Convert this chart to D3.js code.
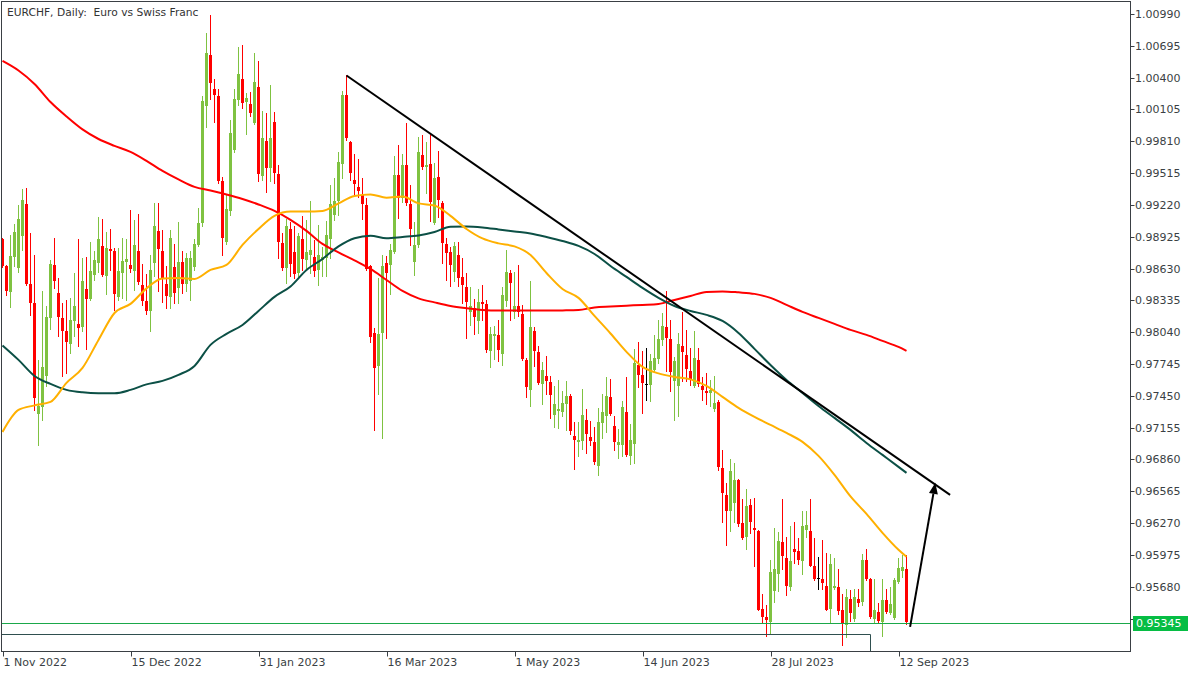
<!DOCTYPE html>
<html><head><meta charset="utf-8">
<script src="https://cdn.jsdelivr.net/npm/d3@7"></script>
<style>body{margin:0;background:#fff;} svg{display:block;} text{font-family:"DejaVu Sans",sans-serif;}</style>
</head><body><svg id="c" width="1200" height="675"></svg>
<script>
const titleText = "EURCHF, Daily:  Euro vs Swiss Franc";
const dateTickIndex = [0, 32, 64, 96, 128, 160, 192, 224];
const dateTickLabels = ["1 Nov 2022", "15 Dec 2022", "31 Jan 2023", "16 Mar 2023", "1 May 2023", "14 Jun 2023", "28 Jul 2023", "12 Sep 2023"];
const priceTicks = [1.00990, 1.00695, 1.00400, 1.00105, 0.99810, 0.99515, 0.99220, 0.98925, 0.98630, 0.98335, 0.98040, 0.97745, 0.97450, 0.97155, 0.96860, 0.96565, 0.96270, 0.95975, 0.95680, 0.95385];

const open = [.9890,.9865,.9842,.9874,.9864,.9894,.9923,.9849,.9831,.9729,.9735,.9763,.9817,.9866,.9840,.9817,.9805,.9793,.9814,.9812,
.9808,.9844,.9835,.9857,.9868,.9884,.9856,.9881,.9879,.9837,.9859,.9869,.9866,.9861,.9879,.9848,.9833,.9824,.9868,.9898,
.9879,.9849,.9836,.9864,.9845,.9869,.9849,.9852,.9865,.9885,.9905,1.0014,1.0061,1.0029,1.0023,.9944,.9887,.9917,.9973,1.0019,
1.0039,1.0017,1.0016,.9998,1.0031,.9949,.9981,.9956,.9999,.9951,.9887,.9863,.9900,.9878,.9859,.9890,.9871,.9875,.9874,.9862,
.9871,.9873,.9891,.9913,.9926,.9960,1.0024,.9980,.9945,.9939,.9931,.9922,.9865,.9803,.9772,.9803,.9868,.9866,.9879,.9950,
.9928,.9959,.9923,.9869,.9885,.9968,.9957,.9960,.9905,.9948,.9924,.9886,.9878,.9860,.9876,.9855,.9846,.9822,.9826,.9814,
.9832,.9830,.9786,.9800,.9801,.9783,.9833,.9859,.9822,.9828,.9821,.9778,.9751,.9805,.9786,.9756,.9763,.9758,.9727,.9731,
.9730,.9738,.9745,.9708,.9702,.9703,.9723,.9707,.9702,.9680,.9720,.9726,.9744,.9717,.9699,.9700,.9730,.9689,.9700,.9774,
.9764,.9756,.9755,.9769,.9779,.9797,.9809,.9798,.9758,.9754,.9791,.9783,.9768,.9754,.9778,.9754,.9749,.9747,.9732,.9739,
.9678,.9653,.9638,.9646,.9667,.9627,.9614,.9644,.9622,.9620,.9547,.9540,.9536,.9564,.9579,.9609,.9595,.9568,.9603,.9601,
.9592,.9620,.9620,.9587,.9576,.9575,.9569,.9547,.9567,.9568,.9546,.9532,.9557,.9538,.9557,.9554,.9593,.9575,.9538,.9545,
.9536,.9556,.9544,.9539,.9572,.9582,.9584];
const high = [.9891,.9866,.9894,.9904,.9922,.9937,.9938,.9896,.9876,.9778,.9842,.9828,.9871,.9891,.9854,.9831,.9834,.9836,.9859,.9890,
.9873,.9874,.9888,.9879,.9911,.9909,.9897,.9900,.9882,.9882,.9891,.9890,.9917,.9908,.9914,.9867,.9858,.9876,.9924,.9924,
.9899,.9865,.9899,.9886,.9906,.9879,.9877,.9879,.9890,.9919,1.0023,1.0081,1.0098,1.0039,1.0029,.9948,.9931,1.0001,1.0029,1.0068,
1.0070,1.0026,1.0027,1.0063,1.0055,1.0009,1.0007,1.0033,1.0008,.9959,.9896,.9909,.9906,.9902,.9896,.9912,.9908,.9926,.9889,.9903,
.9883,.9907,.9940,.9947,.9971,1.0028,1.0042,.9981,.9969,.9965,.9947,.9928,.9866,.9808,.9854,.9876,.9875,.9886,.9967,.9978,
.9969,.9998,.9940,.9906,.9985,.9987,.9980,.9987,.9961,.9972,.9926,.9891,.9883,.9888,.9888,.9873,.9859,.9846,.9835,.9844,
.9848,.9834,.9809,.9810,.9815,.9846,.9880,.9862,.9860,.9866,.9829,.9780,.9851,.9809,.9791,.9776,.9782,.9763,.9754,.9760,
.9749,.9759,.9747,.9721,.9721,.9751,.9733,.9722,.9716,.9734,.9747,.9762,.9761,.9726,.9714,.9740,.9762,.9719,.9788,.9795,
.9787,.9789,.9784,.9801,.9815,.9822,.9842,.9815,.9781,.9803,.9823,.9806,.9789,.9805,.9789,.9762,.9766,.9760,.9763,.9741,
.9695,.9664,.9686,.9683,.9668,.9649,.9659,.9649,.9650,.9621,.9561,.9551,.9593,.9622,.9619,.9649,.9614,.9624,.9628,.9613,
.9638,.9638,.9649,.9613,.9596,.9611,.9599,.9598,.9595,.9584,.9561,.9566,.9565,.9566,.9566,.9598,.9603,.9576,.9575,.9553,
.9575,.9566,.9568,.9576,.9595,.9597,.9597];
const low = [.9864,.9838,.9827,.9865,.9860,.9880,.9848,.9820,.9732,.9699,.9723,.9754,.9807,.9845,.9800,.9763,.9766,.9785,.9800,.9791,
.9805,.9788,.9834,.9852,.9860,.9856,.9839,.9862,.9825,.9834,.9836,.9834,.9860,.9843,.9849,.9829,.9821,.9805,.9856,.9842,
.9832,.9826,.9826,.9831,.9831,.9840,.9842,.9834,.9862,.9884,.9902,.9994,1.0020,.9999,.9942,.9876,.9886,.9913,.9971,1.0015,
1.0012,.9988,1.0004,.9997,.9944,.9945,.9934,.9944,.9942,.9873,.9862,.9850,.9856,.9854,.9856,.9862,.9863,.9859,.9856,.9848,
.9856,.9856,.9873,.9908,.9913,.9947,.9982,.9945,.9930,.9929,.9909,.9862,.9795,.9713,.9747,.9706,.9799,.9839,.9877,.9910,
.9925,.9922,.9885,.9857,.9883,.9955,.9933,.9907,.9904,.9911,.9868,.9852,.9847,.9851,.9847,.9831,.9799,.9811,.9802,.9803,
.9815,.9786,.9772,.9779,.9777,.9774,.9828,.9815,.9817,.9819,.9778,.9744,.9736,.9773,.9756,.9737,.9747,.9724,.9716,.9715,
.9726,.9713,.9710,.9677,.9689,.9696,.9692,.9699,.9682,.9672,.9706,.9711,.9727,.9695,.9687,.9689,.9689,.9682,.9683,.9753,
.9729,.9741,.9740,.9768,.9775,.9792,.9768,.9749,.9723,.9726,.9759,.9759,.9755,.9753,.9754,.9741,.9737,.9736,.9731,.9676,
.9628,.9607,.9620,.9628,.9624,.9612,.9603,.9618,.9587,.9546,.9535,.9522,.9524,.9554,.9564,.9584,.9560,.9565,.9590,.9589,
.9580,.9614,.9587,.9574,.9566,.9566,.9546,.9534,.9566,.9543,.9514,.9521,.9536,.9536,.9550,.9551,.9574,.9539,.9534,.9534,
.9522,.9544,.9543,.9538,.9571,.9577,.9533];
const close = [.9865,.9842,.9875,.9897,.9909,.9927,.9849,.9831,.9743,.9736,.9772,.9818,.9867,.9851,.9818,.9805,.9795,.9815,.9828,.9808,
.9851,.9835,.9861,.9871,.9890,.9857,.9882,.9879,.9839,.9861,.9870,.9872,.9862,.9885,.9850,.9833,.9824,.9862,.9902,.9881,
.9854,.9838,.9891,.9840,.9869,.9849,.9873,.9873,.9886,.9905,1.0018,1.0063,1.0035,1.0023,.9944,.9891,.9918,.9989,1.0020,1.0043,
1.0017,1.0021,1.0008,1.0036,.9950,.9984,.9956,.9984,.9952,.9888,.9864,.9902,.9868,.9858,.9893,.9871,.9878,.9880,.9861,.9876,
.9874,.9894,.9923,.9926,.9962,1.0024,.9984,.9951,.9941,.9935,.9923,.9863,.9799,.9771,.9802,.9865,.9859,.9880,.9950,.9929,
.9959,.9924,.9900,.9885,.9971,.9957,.9959,.9925,.9947,.9927,.9887,.9878,.9866,.9884,.9855,.9848,.9832,.9828,.9818,.9832,
.9830,.9787,.9802,.9802,.9787,.9838,.9860,.9850,.9828,.9822,.9779,.9753,.9809,.9786,.9757,.9769,.9758,.9746,.9737,.9733,
.9738,.9745,.9713,.9704,.9704,.9727,.9710,.9703,.9683,.9721,.9730,.9745,.9728,.9702,.9702,.9735,.9690,.9704,.9775,.9765,
.9757,.9756,.9777,.9780,.9798,.9810,.9799,.9767,.9777,.9793,.9785,.9770,.9761,.9780,.9756,.9750,.9747,.9750,.9738,.9679,
.9655,.9638,.9675,.9667,.9626,.9613,.9643,.9628,.9620,.9547,.9540,.9537,.9582,.9584,.9610,.9596,.9569,.9592,.9600,.9593,
.9624,.9625,.9588,.9575,.9576,.9571,.9547,.9589,.9569,.9546,.9533,.9558,.9544,.9558,.9553,.9593,.9575,.9540,.9546,.9537,
.9556,.9545,.9552,.9574,.9585,.9586,.95345];

const maIndex = d3.range(0, 225, 4).concat([226]);
const maOrange = [0.97115,0.97319,0.97361,0.97393,0.97570,0.97709,0.97968,0.98218,0.98302,0.98446,
0.98538,0.98543,0.98534,0.98617,0.98663,0.98849,0.98997,0.99118,0.99158,0.99158,
0.99164,0.99234,0.99303,0.99317,0.99287,0.99298,0.99234,0.99215,0.99118,0.98997,
0.98909,0.98863,0.98835,0.98756,0.98589,0.98441,0.98358,0.98191,0.98028,0.97857,
0.97718,0.97658,0.97625,0.97602,0.97542,0.97440,0.97338,0.97254,0.97180,0.97106,
0.97023,0.96893,0.96717,0.96517,0.96355,0.96179,0.96022,0.95957];
const maTeal = [0.97917,0.97783,0.97634,0.97560,0.97505,0.97482,0.97474,0.97474,0.97505,0.97556,
0.97588,0.97644,0.97727,0.97922,0.98024,0.98107,0.98237,0.98367,0.98464,0.98617,
0.98719,0.98835,0.98911,0.98935,0.98911,0.98923,0.98937,0.98969,0.99018,0.99020,
0.99011,0.98993,0.98974,0.98955,0.98923,0.98886,0.98840,0.98765,0.98654,0.98552,
0.98450,0.98358,0.98283,0.98237,0.98200,0.98144,0.98033,0.97885,0.97736,0.97597,
0.97477,0.97356,0.97245,0.97134,0.97013,0.96902,0.96791,0.96735];
const maRed = [1.00555,1.00466,1.00341,1.00174,1.00040,0.99920,0.99831,0.99767,0.99711,0.99628,
0.99535,0.99456,0.99387,0.99354,0.99317,0.99275,0.99224,0.99164,0.99081,0.98979,
0.98858,0.98779,0.98705,0.98626,0.98524,0.98422,0.98353,0.98316,0.98283,0.98262,
0.98246,0.98240,0.98240,0.98240,0.98240,0.98242,0.98246,0.98269,0.98278,0.98286,
0.98293,0.98302,0.98339,0.98376,0.98413,0.98418,0.98409,0.98395,0.98358,0.98293,
0.98228,0.98172,0.98117,0.98061,0.98015,0.97959,0.97903,0.97866];

const lastPrice = 0.95345;
const trendIdx = [86, 236.9];
const trendPrice = [1.0042, 0.96531];
const arrowIdx = [226.9, 233.2];
const arrowPrice = [0.95308, 0.96643];
const boxRightIdx = 217;
const boxTopPrice = 0.95243;

const plotL = 1.5, plotR = 1130.5, plotT = 1.5, plotB = 651.5;
const svg = d3.select("#c");
const x = d3.scaleLinear().domain([0, 1]).range([2.5, 6.5]);
const y = d3.scaleLinear().domain([0.95680, 1.00990]).range([586.7, 14]);

svg.append("defs").append("clipPath").attr("id", "clip")
  .append("rect").attr("x", plotL).attr("y", plotT).attr("width", plotR - plotL).attr("height", plotB - plotT);

const plot = svg.append("g").attr("clip-path", "url(#clip)");

// candles
const GREEN = "#7fc241", RED = "#ff0000";
const bars = d3.range(open.length).map(i => ({i, o: open[i], h: high[i], l: low[i], c: close[i]}));
const col = d => d.c > d.o ? GREEN : (d.c < d.o ? RED : "#000");
const cg = plot.append("g");
cg.selectAll("line.w").data(bars).join("line")
  .attr("x1", d => x(d.i)).attr("x2", d => x(d.i))
  .attr("y1", d => Math.round(y(d.h))).attr("y2", d => Math.round(y(d.l)) + 1)
  .attr("stroke", col).attr("stroke-width", 1);
cg.selectAll("rect.b").data(bars).join("rect")
  .attr("x", d => x(d.i) - 1.5).attr("width", 3)
  .attr("y", d => Math.round(y(Math.max(d.o, d.c))))
  .attr("height", d => Math.max(1, Math.round(Math.abs(y(d.o) - y(d.c)))))
  .attr("fill", col);

// moving averages
function maLine(vals, color) {
  const pts = maIndex.map((idx, k) => [x(idx), y(vals[k])]);
  plot.append("path").attr("d", d3.line().curve(d3.curveMonotoneX)(pts))
    .attr("fill", "none").attr("stroke", color).attr("stroke-width", 2);
}
maLine(maRed, "#ff0000");
maLine(maTeal, "#0c5046");
maLine(maOrange, "#ffb000");

// current price line
plot.append("line").attr("x1", plotL).attr("x2", plotR)
  .attr("y1", Math.round(y(lastPrice)) + 0.5).attr("y2", Math.round(y(lastPrice)) + 0.5)
  .attr("stroke", "#1aa84a").attr("stroke-width", 1);

// rectangle object
const by = Math.round(y(boxTopPrice)) + 0.5;
plot.append("path")
  .attr("d", `M${plotL - 2},${by}H${x(boxRightIdx)}V${plotB + 5}`)
  .attr("fill", "none").attr("stroke", "#2f4f4f").attr("stroke-width", 1);

// trend line
plot.append("line")
  .attr("x1", x(trendIdx[0])).attr("y1", y(trendPrice[0]))
  .attr("x2", x(trendIdx[1])).attr("y2", y(trendPrice[1]))
  .attr("stroke", "#000").attr("stroke-width", 2);

// arrow
const ax1 = x(arrowIdx[0]), ay1 = y(arrowPrice[0]), ax2 = x(arrowIdx[1]), ay2 = y(arrowPrice[1]);
const ang = Math.atan2(ay2 - ay1, ax2 - ax1);
const hl = 11, hw = 4.5;
const bx = ax2 - hl * Math.cos(ang), byy = ay2 - hl * Math.sin(ang);
plot.append("line").attr("x1", ax1).attr("y1", ay1).attr("x2", bx).attr("y2", byy)
  .attr("stroke", "#000").attr("stroke-width", 2);
plot.append("path")
  .attr("d", `M${ax2},${ay2}L${bx + hw * Math.sin(ang)},${byy - hw * Math.cos(ang)}L${bx - hw * Math.sin(ang)},${byy + hw * Math.cos(ang)}Z`)
  .attr("fill", "#000");

// frame
svg.append("rect").attr("x", plotL).attr("y", plotT).attr("width", plotR - plotL).attr("height", plotB - plotT)
  .attr("fill", "none").attr("stroke", "#3a3f44").attr("stroke-width", 1);

// title
svg.append("text").attr("x", 7).attr("y", 16).attr("font-size", "10.7px").attr("fill", "#333")
  .style("white-space", "pre").attr("xml:space", "preserve").text(titleText);

// y axis
const TXT = "#3a3f44";
const ya = svg.append("g");
const ly = Math.round(y(lastPrice));
priceTicks.forEach(t => {
  const yy = Math.round(y(t)) + 0.5;
  ya.append("line").attr("x1", plotR).attr("x2", plotR + 4).attr("y1", yy).attr("y2", yy).attr("stroke", TXT);
  // the tick label hidden under the current-price box is not drawn
  if (Math.abs(yy - ly) > 12) {
    ya.append("text").attr("x", 1135).attr("y", yy).attr("dy", "0.36em").attr("font-size", "11px").attr("fill", TXT)
      .text(t.toFixed(5));
  }
});

// last price label
svg.append("rect").attr("x", 1133).attr("y", ly - 7).attr("width", 55).attr("height", 15).attr("fill", "#06bd44");
svg.append("text").attr("x", 1136).attr("y", ly + 0.5).attr("dy", "0.36em").attr("font-size", "11px").attr("fill", "#fff")
  .text(lastPrice.toFixed(5));

// x axis
const xa = svg.append("g");
dateTickIndex.forEach((idx, k) => {
  const xx = Math.round(x(idx)) + 0.5;
  xa.append("line").attr("x1", xx).attr("x2", xx).attr("y1", plotB).attr("y2", plotB + 5).attr("stroke", TXT);
  xa.append("text").attr("x", xx).attr("y", 666).attr("font-size", "11px").attr("fill", TXT).text(dateTickLabels[k]);
});
</script></body></html>
